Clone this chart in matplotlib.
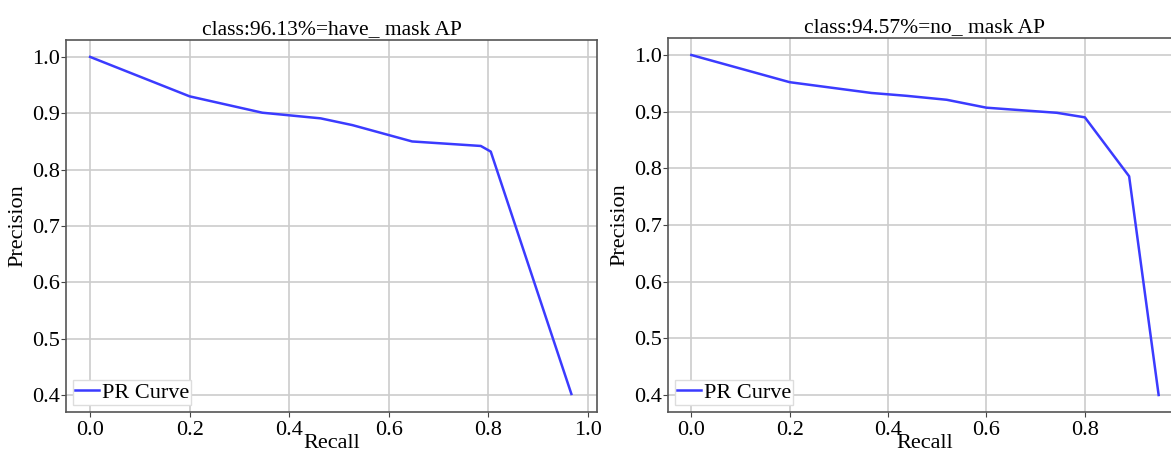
import matplotlib.pyplot as plt

plt.rcParams['font.family'] = ['Liberation Serif', 'DejaVu Serif']

# === Data ===
have_recall = [0.0, 0.2, 0.346, 0.463, 0.527, 0.647, 0.785, 0.805, 0.967]
have_precision = [1.0, 0.93, 0.901, 0.891, 0.879, 0.850, 0.842, 0.832, 0.402]
have_title = 'class:96.13%=have_ mask AP'

no_recall = [0.0, 0.2, 0.366, 0.437, 0.519, 0.60, 0.743, 0.80, 0.89, 0.95]
no_precision = [1.0, 0.952, 0.933, 0.928, 0.921, 0.907, 0.898, 0.890, 0.786, 0.40]
no_title = 'class:94.57%=no_ mask AP'

xticks = [0.0, 0.2, 0.4, 0.6, 0.8, 1.0]
yticks = [0.4, 0.5, 0.6, 0.7, 0.8, 0.9, 1.0]

fig = plt.figure(figsize=(11.71, 4.54), dpi=100)
ax1 = fig.add_axes([66 / 1171, 42 / 454, 531 / 1171, 372 / 454])
ax2 = fig.add_axes([668 / 1171, 42 / 454, 514 / 1171, 374 / 454])

panels = [
    (ax1, have_recall, have_precision, have_title),
    (ax2, no_recall, no_precision, no_title),
]

for ax, r, p, t in panels:
    ax.plot(r, p, color='#3b3bff', lw=1.8, label='PR Curve', zorder=3)
    ax.set_xticks(xticks)
    ax.set_yticks(yticks)
    ax.grid(True, color='#cccccc', lw=1.2)
    ax.set_axisbelow(True)
    ax.tick_params(labelsize=16, length=3.5, pad=1, color='#444444')
    ax.tick_params(axis='x', pad=3)
    for s in ax.spines.values():
        s.set_color('#555555')
        s.set_linewidth(1.2)
    ax.set_title(t, fontsize=15.5, pad=4)
    ax.set_xlabel('Recall', fontsize=16, labelpad=-4)
    ax.set_ylabel('Precision', fontsize=16, labelpad=3)
    ax.legend(loc='lower left', fontsize=16, borderaxespad=0.3,
              handlelength=1.1, handletextpad=0.1, borderpad=0.1,
              fancybox=False, edgecolor='#dddddd', framealpha=1)

ax1.set_xlim(-0.0485, 1.0185)
ax2.set_xlim(-0.0475, 0.9975)
for ax in (ax1, ax2):
    ax.set_ylim(0.37, 1.03)

plt.savefig('out.png')
